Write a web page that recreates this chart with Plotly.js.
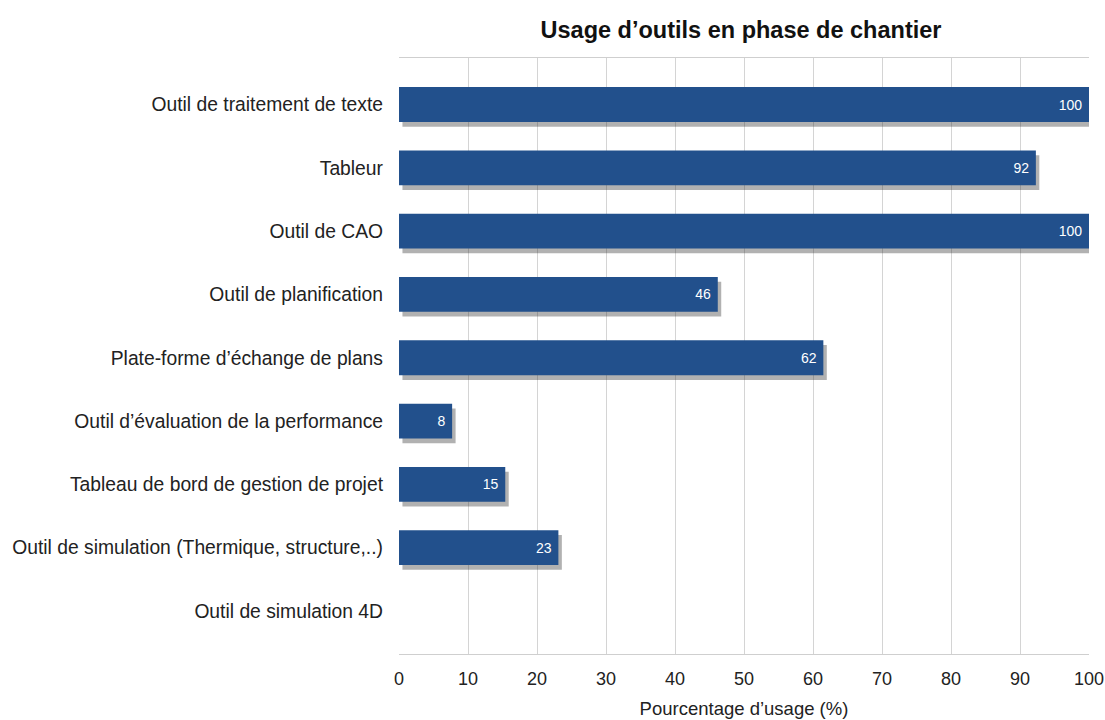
<!DOCTYPE html>
<html>
<head>
<meta charset="utf-8">
<script src="https://cdn.plot.ly/plotly-3.0.1.min.js"></script>
<style>html,body{margin:0;padding:0;background:#fff;}#chart{width:1105px;height:720px;}</style>
</head>
<body>
<div id="chart"></div>
<script>
const categories = [
  "Outil de traitement de texte",
  "Tableur",
  "Outil de CAO",
  "Outil de planification",
  "Plate-forme d’échange de plans",
  "Outil d’évaluation de la performance",
  "Tableau de bord de gestion de projet",
  "Outil de simulation (Thermique, structure,..)",
  "Outil de simulation 4D"
];
const values = [100, 92.3, 100, 46.2, 61.5, 7.7, 15.4, 23.1, 0];
const xTicks = [0, 10, 20, 30, 40, 50, 60, 70, 80, 90, 100];

const labels = values.map(v => v > 0 ? String(Math.round(v)) + "\u00a0" : "");

const shadow = {
  type: "bar", orientation: "h",
  y: categories, x: values, base: 0.5,
  width: 0.55, offset: -0.2,
  marker: {color: "rgba(50,50,50,0.38)", line: {width: 0}},
  hoverinfo: "skip", showlegend: false
};
const bars = {
  type: "bar", orientation: "h",
  y: categories, x: values,
  width: 0.55,
  marker: {color: "#22508c", line: {width: 0}},
  text: labels, textposition: "inside", insidetextanchor: "end",
  textfont: {family: "Liberation Sans, Arial, sans-serif", size: 14, color: "#ffffff"},
  showlegend: false
};

const layout = {
  width: 1105, height: 720,
  margin: {l: 399, r: 16, t: 58, b: 66},
  paper_bgcolor: "#ffffff", plot_bgcolor: "#ffffff",
  barmode: "overlay",
  font: {family: "Liberation Sans, Arial, sans-serif", color: "#222"},
  title: {
    text: "<b>Usage d’outils en phase de chantier</b>",
    font: {size: 23.5, color: "#111"},
    xref: "container", yref: "container",
    x: 0.6706, xanchor: "center", y: 0.958, yanchor: "middle"
  },
  xaxis: {
    range: [0, 100], tickvals: xTicks, ticktext: xTicks.map(String),
    showgrid: true, gridcolor: "#d4d4d4", gridwidth: 1,
    showline: true, linecolor: "#cfcfcf", mirror: true,
    zeroline: false, ticks: "", ticklen: 0,
    ticklabelstandoff: 8,
    tickfont: {size: 18, color: "#222"},
    title: {text: "Pourcentage d’usage (%)", font: {size: 18.5, color: "#222"}, standoff: 14},
    automargin: false, fixedrange: true
  },
  yaxis: {
    type: "category",
    range: [8.68, -0.735],
    showgrid: false, showline: false, zeroline: false,
    ticks: "", ticklen: 0,
    ticklabelstandoff: 15,
    tickfont: {size: 19.3, color: "#222"},
    automargin: false, fixedrange: true
  }
};

Plotly.newPlot("chart", [shadow, bars], layout, {displayModeBar: false, staticPlot: true});
</script>
</body>
</html>
